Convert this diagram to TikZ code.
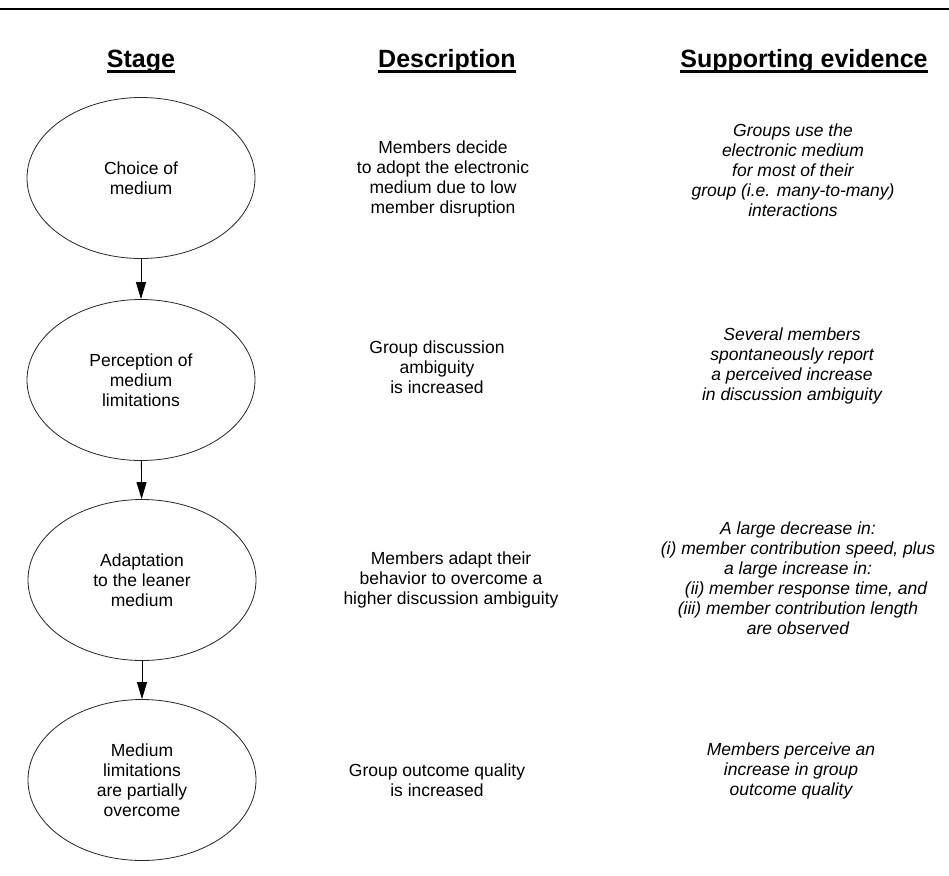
\documentclass[tikz,border=0pt]{standalone}
\usepackage{fontspec}
\setmainfont{Liberation Sans}
\usetikzlibrary{shapes.geometric,arrows.meta,calc}
\tikzset{
  stagebox/.style={ellipse,draw=black!85,line width=0.8pt,minimum width=228pt,minimum height=161pt,inner sep=0pt,align=center,font=\fontsize{17.5}{20}\selectfont},
  desctext/.style={align=center,inner sep=0pt,font=\fontsize{17.5}{20}\selectfont},
  evtext/.style={align=center,inner sep=0pt,font=\fontsize{17.5}{20}\selectfont\itshape},
  headtext/.style={anchor=base,inner sep=0pt,font=\fontsize{25}{28}\selectfont\bfseries},
  headline/.style={line width=2.5pt},
  arr/.style={line width=0.9pt,-{Triangle[length=17pt,width=10pt]}},
}
\begin{document}
\begin{tikzpicture}[x=1pt,y=-1pt]
\useasboundingbox (0,0) rectangle (949,875);
% top rule
\coordinate (r0) at (0,9);
\coordinate (r1) at (949,9);
\draw[line width=2pt] (r0) -- (r1);
% headers
\node[headtext] (h1) at (141,67) {Stage};
\node[headtext] (h2) at (447,67) {Description};
\node[headtext] (h3) at (804,67) {Supporting evidence};
\foreach \h in {h1,h2,h3}{
  \draw[headline] ($(\h.base west)+(0,4.5)$) -- ($(\h.base east)+(0,4.5)$);
}
% stages
\node[stagebox] (e1) at (141,178) {Choice of\\medium};
\node[stagebox] (e2) at (141,380) {Perception of\\medium\\limitations};
\node[stagebox] (e3) at (142,580) {Adaptation\\to the leaner\\medium};
\node[stagebox] (e4) at (142,780) {Medium\\limitations\\are partially\\overcome};
\draw[arr] (e1) -- (e2);
\draw[arr] (e2) -- (e3);
\draw[arr] (e3) -- (e4);
% descriptions
\node[desctext] (d1) at (443,179) {Members decide\\to adopt the electronic\\medium due to low\\member disruption};
\node[desctext] (d2) at (437,367) {Group discussion\\ambiguity\\is increased};
\node[desctext] (d3) at (451,580) {Members adapt their\\behavior to overcome a\\higher discussion ambiguity};
\node[desctext] (d4) at (437,780) {Group outcome quality\\is increased};
% evidence
\node[evtext] (s1) at (793,170) {Groups use the\\electronic medium\\for most of their\\group (i.e. many-to-many)\\interactions};
\node[evtext] (s2) at (792,366) {Several members\\spontaneously report\\a perceived increase\\in discussion ambiguity};
\node[evtext] (s3) at (798,578) {A large decrease in:\\(i) member contribution speed, plus\\a large increase in:\\\hspace*{16pt}(ii) member response time, and\\(iii) member contribution length\\are observed};
\node[evtext] (s4) at (791,771) {Members perceive an\\increase in group\\outcome quality};
\end{tikzpicture}
\end{document}
